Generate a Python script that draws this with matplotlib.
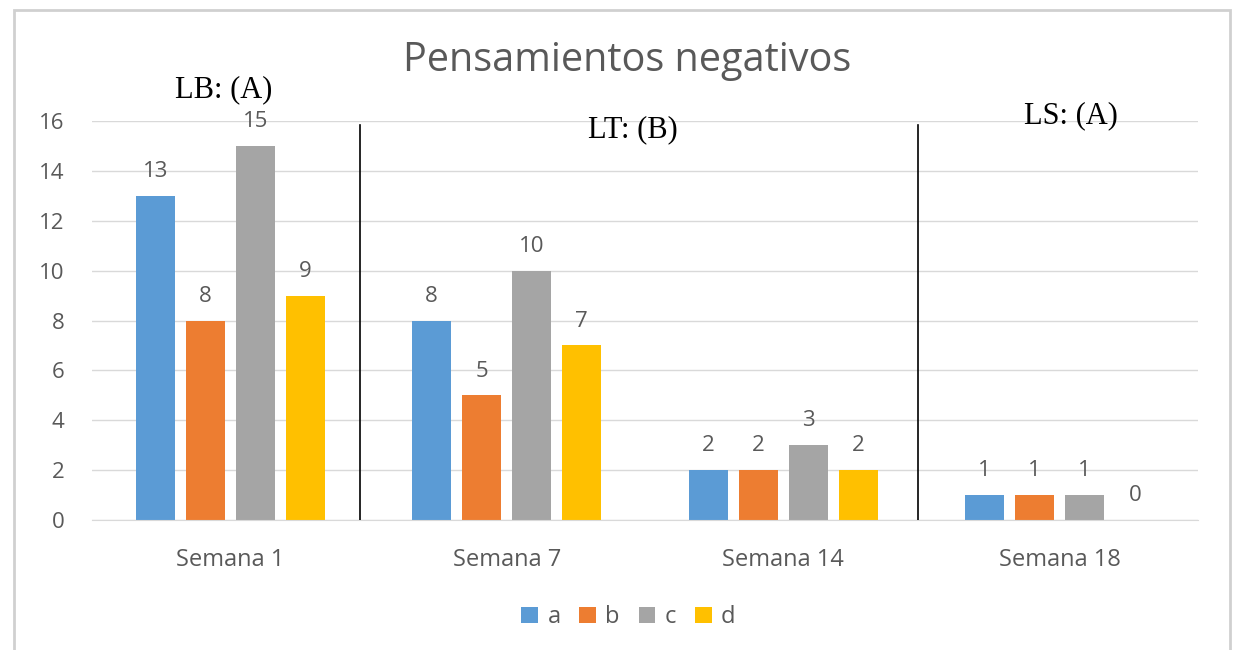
"""Grouped bar chart: Pensamientos negativos."""

import matplotlib.pyplot as plt
import matplotlib.patches as mpatches
import numpy as np

weeks = ["Semana 1", "Semana 7", "Semana 14", "Semana 18"]
series = ["a", "b", "c", "d"]
values_a = [13, 8, 2, 1]
values_b = [8, 5, 2, 1]
values_c = [15, 10, 3, 1]
values_d = [9, 7, 2, 0]
phase_labels = ["LB: (A)", "LT: (B)", "LS: (A)"]

colors = ["#5B9BD5", "#ED7D31", "#A5A5A5", "#FFC000"]
TEXT = "#595959"
GRID = "#D9D9D9"

plt.rcParams["font.family"] = ["Open Sans", "DejaVu Sans"]

fig = plt.figure(figsize=(12.37, 6.5), dpi=100)
ax = fig.add_axes([0.0744, 0.2, 0.8941, 0.6138])

# outer chart border
fig.patches.append(
    mpatches.Rectangle((0.011, -0.01), 0.983, 0.995, transform=fig.transFigure,
                       fill=False, edgecolor="#D0D0D0", linewidth=2)
)

x = np.arange(len(weeks))
pitch = 0.181
width = 0.141
for i, (name, vals) in enumerate(zip(series, [values_a, values_b, values_c, values_d])):
    pos = x + (i - 1.5) * pitch
    ax.bar(pos, vals, width, color=colors[i], label=name, zorder=2)
    for xp, v in zip(pos, vals):
        ax.text(xp, v + 0.55, str(v), ha="center", va="bottom",
                fontsize=16, color=TEXT)

ax.set_xlim(-0.5, len(weeks) - 0.5)
ax.set_ylim(0, 16)
ax.set_yticks(range(0, 17, 2))
ax.set_xticks(x)
ax.set_xticklabels(weeks)
ax.grid(axis="y", color=GRID, linewidth=1, zorder=0)
for side in ["top", "right", "left"]:
    ax.spines[side].set_visible(False)
ax.spines["bottom"].set_color(GRID)
ax.tick_params(axis="both", length=0, labelsize=16, labelcolor=TEXT)
ax.tick_params(axis="x", pad=20, labelsize=17)
ax.tick_params(axis="y", pad=20)

# phase separators
for xs in [0.469, 2.487]:
    ax.plot([xs, xs], [0, 15.85], color="black", linewidth=1.2, zorder=3)

serif = dict(family=["Liberation Serif", "DejaVu Serif"], fontsize=22, color="black")
ax.text(-0.025, 17.25, phase_labels[0], ha="center", va="center", **serif)
ax.text(1.455, 15.65, phase_labels[1], ha="center", va="center", **serif)
ax.text(3.04, 16.2, phase_labels[2], ha="center", va="center", **serif)

fig.text(0.507, 0.907, "Pensamientos negativos", ha="center", va="center",
         fontsize=28.5, color=TEXT)

ax.legend(loc="upper center", bbox_to_anchor=(0.485, -0.16), ncol=4,
          frameon=False, fontsize=17, labelcolor=TEXT, handlelength=0.7,
          handleheight=0.7, handletextpad=0.4, columnspacing=0.8)

fig.savefig("out.png", dpi=100, facecolor="white")
